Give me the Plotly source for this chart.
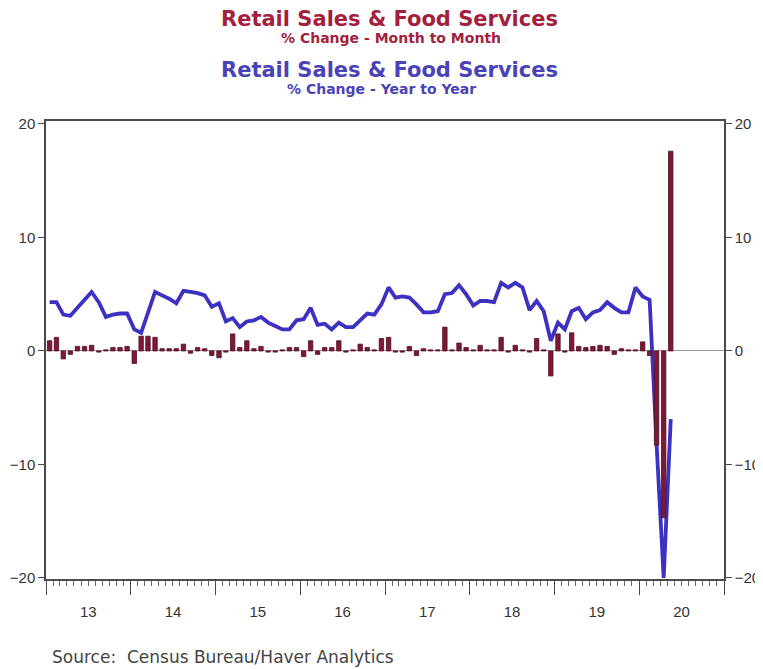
import pandas as pd
import plotly.graph_objects as go

# Monthly observations, Jan 2013 .. May 2020
months = pd.date_range("2013-01-01", periods=89, freq="MS")

# Retail Sales & Food Services, % change month to month (bars)
mom_2013 = [0.9, 1.2, -0.7, -0.3, 0.4, 0.4, 0.5, -0.1, 0.1, 0.3, 0.3, 0.4]
mom_2014 = [-1.1, 1.3, 1.3, 1.2, 0.2, 0.2, 0.2, 0.6, -0.2, 0.3, 0.2, -0.4]
mom_2015 = [-0.6, -0.1, 1.5, 0.3, 0.9, 0.2, 0.4, -0.1, -0.1, 0.1, 0.3, 0.3]
mom_2016 = [-0.5, 0.9, -0.3, 0.3, 0.3, 0.9, -0.1, 0.1, 0.6, 0.3, 0.1, 1.1]
mom_2017 = [1.2, -0.1, -0.1, 0.4, -0.4, 0.2, 0.1, 0.1, 2.1, 0.1, 0.7, 0.3]
mom_2018 = [0.1, 0.5, 0.1, 0.1, 1.2, -0.1, 0.5, 0.1, -0.1, 1.1, 0.1, -2.2]
mom_2019 = [1.5, -0.1, 1.6, 0.4, 0.3, 0.4, 0.5, 0.4, -0.3, 0.2, 0.1, 0.1]
mom_2020 = [0.8, -0.4, -8.3, -14.7, 17.6]
mom = mom_2013 + mom_2014 + mom_2015 + mom_2016 + mom_2017 + mom_2018 + mom_2019 + mom_2020

# Retail Sales & Food Services, % change year to year (line)
yoy_2013 = [4.3, 4.3, 3.2, 3.1, 3.8, 4.5, 5.2, 4.3, 3.0, 3.2, 3.3, 3.3]
yoy_2014 = [1.9, 1.6, 3.5, 5.2, 4.9, 4.6, 4.2, 5.3, 5.2, 5.1, 4.9, 3.9]
yoy_2015 = [4.2, 2.6, 2.9, 2.1, 2.6, 2.7, 3.0, 2.5, 2.2, 1.9, 1.9, 2.7]
yoy_2016 = [2.8, 3.8, 2.3, 2.4, 1.9, 2.5, 2.1, 2.1, 2.7, 3.3, 3.2, 4.1]
yoy_2017 = [5.6, 4.7, 4.8, 4.7, 4.1, 3.4, 3.4, 3.5, 5.0, 5.1, 5.8, 5.0]
yoy_2018 = [4.0, 4.4, 4.4, 4.3, 6.0, 5.6, 6.0, 5.6, 3.6, 4.4, 3.5, 0.9]
yoy_2019 = [2.5, 1.9, 3.5, 3.8, 2.8, 3.4, 3.6, 4.3, 3.8, 3.4, 3.4, 5.6]
yoy_2020 = [4.8, 4.5, -8.2, -20.0, -6.0]
yoy = yoy_2013 + yoy_2014 + yoy_2015 + yoy_2016 + yoy_2017 + yoy_2018 + yoy_2019 + yoy_2020

y_ticks = [-20, -10, 0, 10, 20]
y_range = [-20.09, 20.26]
x_range = ["2013-01-01", "2021-01-01"]

RED = "#a31f3d"
BLUE = "#4a43b8"
FRAME = "#4a4a4a"
TXT = "#333333"

fig = go.Figure()
fig.add_trace(go.Scatter(
    x=months, y=yoy, mode="lines", xperiod="M1", xperiodalignment="middle",
    line=dict(color="#3d31c2", width=3.8), yaxis="y", showlegend=False))
fig.add_trace(go.Bar(
    x=months, y=mom, xperiod="M1", xperiodalignment="middle",
    width=19 * 24 * 3600 * 1000,
    marker=dict(color="#7b1a35", line=dict(color="#560b20", width=0.8)),
    yaxis="y2", showlegend=False))

tickfont = dict(family="Liberation Sans, Arial", size=15, color=TXT)

# page body has an 8px margin: the figure is sized/offset to compensate
fig.update_layout(
    width=755, height=661,
    margin=dict(l=38, r=39, t=113, b=90, autoexpand=False),
    paper_bgcolor="white", plot_bgcolor="white",
    xaxis=dict(
        type="date", range=x_range, dtick="M12", tick0="2013-01-01",
        tickformat="%y", ticklabelmode="period", automargin=False,
        ticks="outside", ticklen=14, tickwidth=1.2, tickcolor=FRAME,
        minor=dict(dtick="M1", ticks="outside", ticklen=5, tickwidth=1, tickcolor="#666"),
        showline=True, linecolor=FRAME, linewidth=1.5, mirror=True,
        showgrid=False, tickfont=tickfont, ticklabelstandoff=4,
    ),
    yaxis=dict(
        range=y_range, tickvals=y_ticks, ticks="outside", ticklen=6, automargin=False,
        tickcolor=FRAME, showline=True, linecolor=FRAME, linewidth=1.5,
        showgrid=False, zeroline=True, zerolinecolor="#999999", zerolinewidth=1,
        tickfont=tickfont,
    ),
    yaxis2=dict(
        range=y_range, tickvals=y_ticks, ticks="outside", ticklen=6, automargin=False,
        tickcolor=FRAME, showline=True, linecolor=FRAME, linewidth=1.5,
        overlaying="y", side="right", showgrid=False, zeroline=False,
        tickfont=tickfont,
    ),
    bargap=0.3,
)

# helpers: screen pixel -> paper coordinate (plot area spans x 46..724, y 121..579)
def py(p):
    return 1 + (121 - p) / 458.0

def px(p):
    return (p - 46) / 678.0

title_font = "DejaVu Sans"
fig.add_annotation(text="<b>Retail Sales & Food Services</b>", x=px(389), y=py(19),
                   xref="paper", yref="paper", showarrow=False, xanchor="center", yanchor="middle",
                   font=dict(family=title_font, size=21, color=RED))
fig.add_annotation(text="<b>% Change - Month to Month</b>", x=px(391), y=py(38),
                   xref="paper", yref="paper", showarrow=False, xanchor="center", yanchor="middle",
                   font=dict(family=title_font, size=14, color=RED))
fig.add_annotation(text="<b>Retail Sales & Food Services</b>", x=px(389), y=py(70),
                   xref="paper", yref="paper", showarrow=False, xanchor="center", yanchor="middle",
                   font=dict(family=title_font, size=21, color=BLUE))
fig.add_annotation(text="<b>% Change - Year to Year</b>", x=px(381), y=py(89),
                   xref="paper", yref="paper", showarrow=False, xanchor="center", yanchor="middle",
                   font=dict(family=title_font, size=14, color=BLUE))
fig.add_annotation(text="Source:  Census Bureau/Haver Analytics", x=px(50), y=py(657),
                   xref="paper", yref="paper", showarrow=False, xanchor="left", yanchor="middle",
                   font=dict(family="DejaVu Sans", size=17, color="#444444"))

fig.write_html("out.html")
